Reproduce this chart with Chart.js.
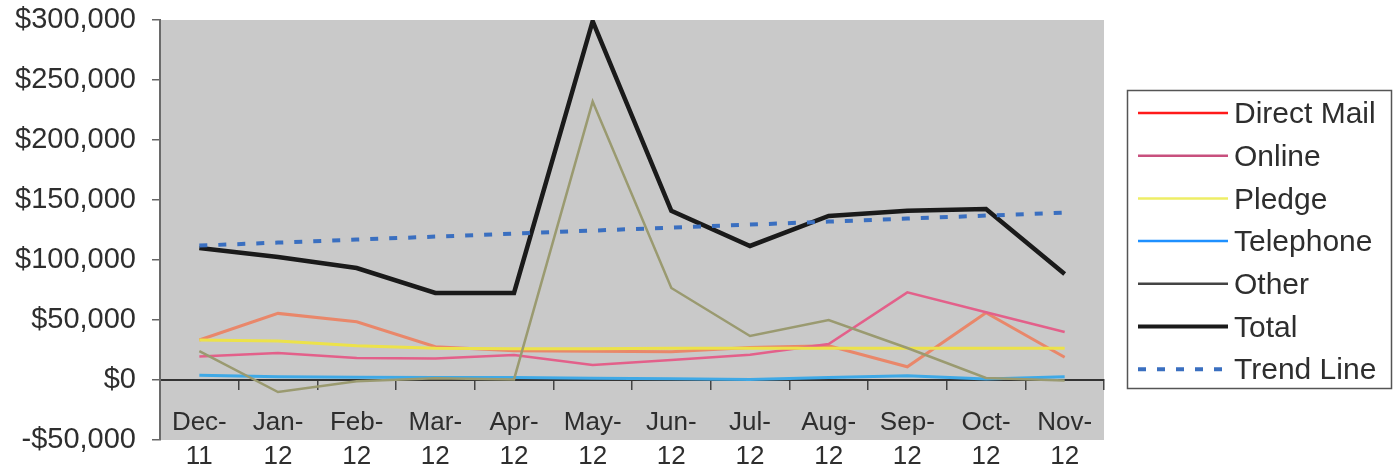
<!DOCTYPE html>
<html>
<head>
<meta charset="utf-8">
<title>Monthly Revenue by Channel</title>
<script src="https://cdn.jsdelivr.net/npm/chart.js@4/dist/chart.umd.min.js"></script>
<style>
  html, body { margin: 0; padding: 0; background: #ffffff; }
  #wrap { width: 1397px; height: 469px; }
</style>
</head>
<body>
<div id="wrap"><canvas id="chart" width="1397" height="469"></canvas></div>
<script>
// Month labels (two lines each: month abbreviation and year)
const monthLabels = [
  ['Dec-', '11'], ['Jan-', '12'], ['Feb-', '12'], ['Mar-', '12'],
  ['Apr-', '12'], ['May-', '12'], ['Jun-', '12'], ['Jul-', '12'],
  ['Aug-', '12'], ['Sep-', '12'], ['Oct-', '12'], ['Nov-', '12']
];

// Revenue per channel, in dollars
const directMail = [33300, 55500, 48500, 27800, 24400, 24000, 23600, 27000, 28500, 11000, 56000, 19000];
const online     = [19500, 22500, 18300, 18000, 20800, 12500, 16700, 21000, 30000, 73000, 56500, 40000];
const pledge     = [33300, 32500, 28500, 26500, 26000, 26000, 26400, 26400, 26400, 26400, 26400, 26400];
const telephone  = [4000, 2700, 2200, 2000, 2000, 1400, 1000, 500, 2000, 3500, 800, 2700];
const other      = [24000, -10000, -1000, 1500, 500, 232000, 76700, 36700, 50000, 26700, 1700, -500];
const total      = [110000, 102500, 93300, 72500, 72500, 299000, 141000, 111700, 136700, 141000, 142500, 88300];
const trendLine  = [112000, 114500, 117000, 119500, 122000, 124500, 127000, 129500, 132000, 134500, 137000, 139500];

// Value axis ticks
const yTicks = { min: -50000, max: 300000, step: 50000 };

const FONT = "'Liberation Sans', Arial, sans-serif";
const TEXT = '#2e2e2e';

function money(v) {
  const s = '$' + Math.abs(v).toLocaleString('en-US');
  return v < 0 ? '-' + s : s;
}

// Grey plot area behind the lines
const plotBackground = {
  id: 'plotBackground',
  beforeDraw(chart) {
    const { ctx, chartArea: a } = chart;
    ctx.save();
    ctx.fillStyle = '#ffffff';
    ctx.fillRect(0, 0, chart.width, chart.height);
    ctx.fillStyle = '#c9c9c9';
    ctx.fillRect(a.left, a.top, a.right - a.left, a.bottom - a.top);
    ctx.restore();
  }
};

// Boxed legend to the right of the plot
const boxedLegend = {
  id: 'boxedLegend',
  afterDraw(chart) {
    const { ctx, chartArea: a } = chart;
    const left = a.right + 23, top = 90, w = 264, h = 298;
    ctx.save();
    ctx.strokeStyle = '#555555';
    ctx.lineWidth = 1.5;
    ctx.strokeRect(left + 0.5, top + 0.5, w, h);
    ctx.font = '30px ' + FONT;
    ctx.textBaseline = 'middle';
    ctx.textAlign = 'left';
    chart.data.datasets.forEach((ds, i) => {
      const y = top + 23 + i * 42.7;
      ctx.save();
      ctx.strokeStyle = ds.legendColor || ds.borderColor;
      ctx.lineWidth = ds.legendWidth || ds.borderWidth;
      ctx.setLineDash(ds.borderDash || []);
      ctx.beginPath();
      ctx.moveTo(left + 11, y);
      ctx.lineTo(left + 101, y);
      ctx.stroke();
      ctx.restore();
      ctx.fillStyle = TEXT;
      ctx.fillText(ds.label, left + 107, y + 2);
    });
    ctx.restore();
  }
};

const series = (label, data, color, width, order, extra) => Object.assign({
  label, data, borderColor: color, backgroundColor: color,
  borderWidth: width, pointRadius: 0, pointHoverRadius: 0,
  tension: 0, fill: false, order
}, extra || {});

new Chart(document.getElementById('chart'), {
  type: 'line',
  data: {
    labels: monthLabels,
    datasets: [
      series('Direct Mail', directMail, '#e9876a', 3, 6, { legendColor: '#ff1a1a', legendWidth: 2.5 }),
      series('Online', online, '#e3608a', 2.5, 5, { legendColor: '#c8507e', legendWidth: 2.5 }),
      series('Pledge', pledge, '#ece24a', 3, 4, { legendColor: '#eeee66', legendWidth: 2.5 }),
      series('Telephone', telephone, '#3fa9e6', 3, 3, { legendColor: '#1e90ff', legendWidth: 2.5 }),
      series('Other', other, '#9a9a70', 2.5, 2, { legendColor: '#444444', legendWidth: 2.5 }),
      series('Total', total, '#1a1a1a', 4.5, 1, { legendWidth: 4 }),
      series('Trend Line', trendLine, '#3a6fc0', 4, 0, { borderDash: [8, 11] })
    ]
  },
  options: {
    responsive: false,
    animation: false,
    devicePixelRatio: 1,
    layout: { padding: { left: 0, top: 20, right: 293, bottom: 29 } },
    plugins: {
      legend: { display: false },
      tooltip: { enabled: false }
    },
    scales: {
      x: {
        type: 'category',
        position: { y: 0 },
        offset: true,
        afterFit(scale) {
          scale.paddingLeft = 0; scale.paddingRight = 0;
          scale.paddingTop = 0; scale.paddingBottom = 0;
        },
        grid: {
          offset: true,
          drawOnChartArea: false,
          drawTicks: true,
          tickLength: 9,
          color: '#444444',
          lineWidth: 1.5
        },
        border: { display: true, color: '#333333', width: 2 },
        ticks: {
          padding: 17,
          maxRotation: 0,
          autoSkip: false,
          color: TEXT,
          font: { family: FONT, size: 26, lineHeight: 1.3 }
        }
      },
      y: {
        min: yTicks.min,
        max: yTicks.max,
        afterFit(scale) {
          scale.width = 160;
          scale.paddingTop = 0; scale.paddingBottom = 0;
        },
        grid: {
          drawOnChartArea: false,
          drawTicks: true,
          tickLength: 8,
          color: '#666666',
          lineWidth: 1.5
        },
        border: { display: true, color: '#6a6a6a', width: 2 },
        ticks: {
          stepSize: yTicks.step,
          padding: 16,
          color: TEXT,
          font: { family: FONT, size: 29 },
          callback: (v) => money(v)
        }
      }
    }
  },
  plugins: [plotBackground, boxedLegend]
});
</script>
</body>
</html>
